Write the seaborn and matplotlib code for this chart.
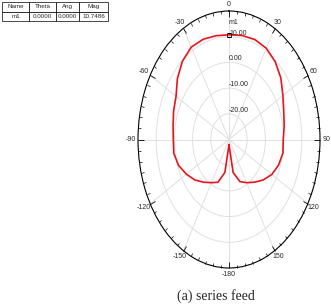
import numpy as np
import pandas as pd
import seaborn as sns
import matplotlib
matplotlib.use("Agg")
import matplotlib.pyplot as plt

# pattern (dB vs angle in degrees)
angles_deg = [-180, -170, -160, -150, -140, -130, -120, -110, -100, -90,
              -80, -70, -60, -50, -40, -30, -20, -10, 0, 10, 20, 30, 40,
              50, 60, 70, 80, 90, 100, 110, 120, 130, 140, 150, 160, 170, 180]
gain_db = [-28.0, -17.0, -12.3, -10.6, -8.3, -5.5, -3.0, -0.5, 0.8, 0.6,
           1.2, 2.4, 3.6, 7.0, 9.8, 11.5, 11.5, 11.0, 10.75, 11.1, 11.4, 11.0, 9.5,
           7.2, 4.2, 2.0, 0.8, -0.2, 0.1, -1.0, -2.8, -5.5, -8.3, -10.6, -12.6, -17.0, -28.0]

theta_ticks = [0, 30, 60, 90, 120, 150, 180, 210, 240, 270, 300, 330]
theta_labels = ["0", "30", "60", "90", "120", "150", "-180", "-150", "-120", "-90", "-60", "-30"]
r_ticks = [-20, -10, 0, 10]
r_labels = ["-20.00", "-10.00", "0.00", "10.00"]

table_cols = ["Name", "Theta", "Ang", "Mag"]
table_row = ["m1", "0.0000", "0.0000", "10.7486"]
marker_theta = 0.0
marker_mag = 10.7486

sns.set_style("white")
plt.rcParams["font.family"] = ["Liberation Sans", "DejaVu Sans"]

df = pd.DataFrame({"theta": np.deg2rad(angles_deg), "gain": gain_db})

fig = plt.figure(figsize=(3.31, 3.06), dpi=100)
ax = fig.add_axes([138 / 331, 38 / 306, 182 / 331, 257 / 306], projection="polar")
ax.set_aspect("auto")
ax.set_theta_zero_location("N")
ax.set_theta_direction(-1)
ax.set_rlim(-30, 20)

sns.lineplot(data=df, x="theta", y="gain", sort=False, color="#e8141c",
             linewidth=1.2, ax=ax, legend=False)

ax.set_xticks(np.deg2rad(theta_ticks))
ax.set_xticklabels(theta_labels)
ax.set_xticks(np.deg2rad(np.arange(0, 360, 5)), minor=True)
ax.tick_params(axis="x", which="both", bottom=False, top=True,
               labelbottom=True, labeltop=False)
ax.tick_params(axis="x", which="major", direction="in", length=4, width=0.6,
               color="black", labelsize=5, pad=-2)
ax.tick_params(axis="x", which="minor", direction="in", length=2, width=0.5, color="black")
ax.set_yticks(r_ticks)
ax.set_yticklabels([])
ax.grid(True, color="#e0e0e0", linewidth=0.7)
ax.spines["polar"].set_color("black")
ax.spines["polar"].set_linewidth(0.8)
ax.set_xlabel("")
ax.set_ylabel("")

for r, lab in zip(r_ticks, r_labels):
    ax.text(0, r, lab, fontsize=5, ha="left", va="bottom")

ax.plot(marker_theta, marker_mag, marker="s", ms=3, mfc="none", mec="black", mew=0.6)
ax.text(marker_theta, marker_mag + 3.5, "m1", fontsize=5, ha="left", va="bottom")

# marker table, top left
axt = fig.add_axes([2 / 331, 1 - 21 / 306, 106 / 331, 19 / 306])
axt.axis("off")
tbl = axt.table(cellText=[table_row], colLabels=table_cols, bbox=[0, 0, 1, 1],
                colWidths=[27, 27, 23, 29], cellLoc="center")
tbl.auto_set_font_size(False)
tbl.set_fontsize(4.5)
for cell in tbl.get_celld().values():
    cell.set_linewidth(0.5)

fig.text(216 / 331, 10 / 306, "(a) series feed", family="Liberation Serif",
         fontsize=10, ha="center", va="center")

fig.savefig("out.png", dpi=100)
